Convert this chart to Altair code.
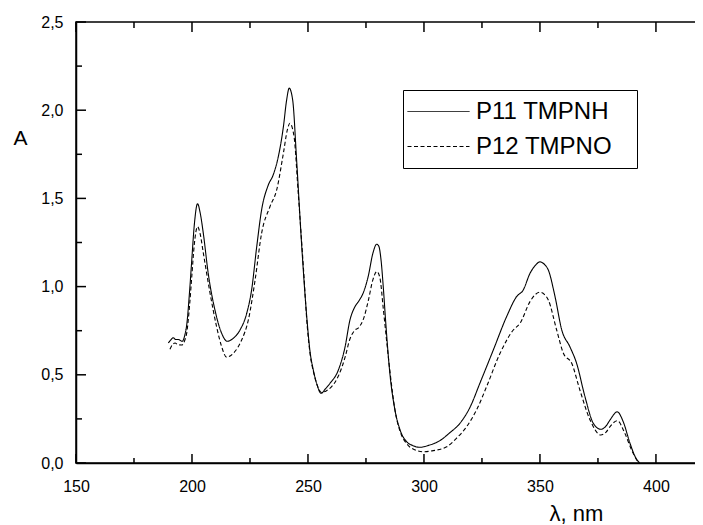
import altair as alt
import pandas as pd

series_names = ["P11 TMPNH", "P12 TMPNO"]

wl_p11 = [189.8, 191.0, 191.9, 193.0, 194.1, 195.8, 197.0, 197.7, 199.0, 199.9,
          201.0, 202.4, 203.5, 204.9, 207.0, 209.9, 212.8, 215.2, 217.8, 220.7,
          223.6, 225.7, 227.9, 230.0, 232.9, 235.0, 237.2, 239.4, 240.8, 241.9,
          243.4, 245.1, 247.3, 249.4, 250.9, 252.3, 254.0, 255.6, 257.5, 259.5,
          263.1, 266.0, 268.1, 270.0, 272.0, 274.0, 276.0, 278.0, 279.6, 280.5,
          281.5, 282.5, 283.5, 285.3, 287.5, 289.7, 292.5, 295.0, 298.3, 302.0,
          306.9, 311.0, 315.5, 320.0, 324.1, 329.9, 335.6, 339.9, 342.8, 345.7,
          348.0, 350.0, 352.0, 353.6, 356.5, 359.4, 362.9, 365.8, 369.4, 373.0,
          376.2, 378.5, 380.2, 383.3, 385.9, 388.8, 391.4, 393.0]
a_p11 = [0.68, 0.70, 0.71, 0.70, 0.70, 0.69, 0.73, 0.78, 0.98, 1.15,
         1.35, 1.47, 1.42, 1.30, 1.075, 0.867, 0.735, 0.69, 0.707, 0.754,
         0.849, 0.981, 1.226, 1.434, 1.576, 1.633, 1.736, 1.906, 2.058, 2.125,
         2.058, 1.718, 1.23, 0.84, 0.63, 0.527, 0.44, 0.395, 0.42, 0.452,
         0.527, 0.659, 0.811, 0.88, 0.92, 0.97, 1.06, 1.19, 1.24, 1.23,
         1.15, 0.99, 0.80, 0.508, 0.30, 0.187, 0.121, 0.10, 0.089, 0.10,
         0.127, 0.17, 0.225, 0.32, 0.452, 0.641, 0.829, 0.943, 0.981, 1.075,
         1.12, 1.14, 1.125, 1.094, 0.943, 0.754, 0.659, 0.565, 0.376, 0.225,
         0.191, 0.21, 0.244, 0.29, 0.234, 0.112, 0.027, 0.0]

wl_p12 = [190.5, 191.5, 192.7, 194.0, 195.6, 197.0, 197.7, 199.0, 199.9, 201.0,
          202.4, 203.5, 204.9, 207.8, 210.6, 212.8, 214.9, 217.8, 221.4, 224.3,
          227.2, 230.0, 233.6, 236.5, 239.4, 241.1, 242.2, 244.0, 245.8, 248.0,
          249.7, 251.0, 252.5, 254.0, 255.8, 258.0, 260.0, 263.0, 266.0, 268.0,
          270.0, 272.0, 274.0, 276.0, 278.0, 279.7, 281.0, 282.5, 284.0, 285.5,
          287.5, 289.7, 292.5, 296.0, 299.7, 304.0, 309.8, 314.0, 318.4, 323.0,
          327.0, 332.8, 338.5, 341.4, 345.7, 348.0, 350.0, 352.0, 353.6, 357.2,
          360.1, 363.7, 367.2, 371.6, 376.2, 378.5, 380.2, 383.3, 386.6, 389.5,
          392.5]
a_p12 = [0.645, 0.67, 0.68, 0.67, 0.669, 0.70, 0.735, 0.90, 1.056, 1.24,
         1.34, 1.30, 1.189, 0.962, 0.773, 0.659, 0.60, 0.622, 0.697, 0.811,
         1.037, 1.302, 1.453, 1.548, 1.756, 1.888, 1.926, 1.85, 1.529, 1.113,
         0.773, 0.61, 0.51, 0.44, 0.40, 0.41, 0.43, 0.49, 0.60, 0.70,
         0.75, 0.77, 0.82, 0.92, 1.04, 1.085, 1.05, 0.87, 0.68, 0.50,
         0.30, 0.18, 0.11, 0.075, 0.064, 0.07, 0.092, 0.14, 0.206, 0.31,
         0.433, 0.622, 0.754, 0.792, 0.915, 0.955, 0.968, 0.955, 0.924, 0.754,
         0.622, 0.565, 0.414, 0.244, 0.159, 0.175, 0.206, 0.24, 0.168, 0.074,
         0.0]

x_major = [150, 200, 250, 300, 350, 400]
x_minor = [175, 225, 275, 325, 375]
y_major = [0.0, 0.5, 1.0, 1.5, 2.0, 2.5]
y_minor = [0.25, 0.75, 1.25, 1.75, 2.25]

W, H = 634, 441
FONT = "Liberation Sans"

df = pd.concat([
    pd.DataFrame({"wl": wl_p11, "A": a_p11, "series": series_names[0]}),
    pd.DataFrame({"wl": wl_p12, "A": a_p12, "series": series_names[1]}),
], ignore_index=True)

xscale = alt.Scale(domain=[150, 423.3], nice=False, zero=False)
yscale = alt.Scale(domain=[0, 2.5], nice=False, zero=False)

xaxis = alt.Axis(values=x_major, format="d", ticks=False, tickSize=0,
                 labelPadding=15, labelFontSize=16, labelFont=FONT,
                 labelColor="black", labelFlush=False, labelOverlap=False,
                 domainColor="black", domainWidth=1.5, grid=False,
                 title="λ, nm", titleFont=FONT, titleFontSize=22,
                 titleFontWeight="normal", titleColor="black",
                 titleX=500, titleY=57, titleAlign="center",
                 titleBaseline="alphabetic")
yaxis = alt.Axis(values=y_major,
                 labelExpr="replace(format(datum.value, '.1f'), '.', ',')",
                 ticks=False, tickSize=0, labelPadding=13, labelFontSize=16,
                 labelFont=FONT, labelColor="black", labelFlush=False,
                 labelOverlap=False, domainColor="black", domainWidth=1.5,
                 grid=False, title="A", titleFont=FONT, titleFontSize=21,
                 titleFontWeight="normal", titleColor="black", titleAngle=0,
                 titleX=-56, titleY=116, titleAlign="center",
                 titleBaseline="middle")

legend = alt.Legend(orient="none", legendX=327, legendY=68, title=None,
                    symbolType="stroke", symbolSize=3844, symbolStrokeWidth=1,
                    symbolStrokeColor="black", clipHeight=35, rowPadding=0,
                    labelFontSize=24, labelFont=FONT, labelColor="black",
                    labelOffset=6, labelLimit=400, strokeColor="black",
                    padding=4, labelExpr="datum.label + '   \u200b'")

lines = alt.Chart(df).mark_line(color="black", strokeWidth=1.1,
                                interpolate="monotone").encode(
    x=alt.X("wl:Q", scale=xscale, axis=xaxis),
    y=alt.Y("A:Q", scale=yscale, axis=yaxis),
    strokeDash=alt.StrokeDash("series:N",
                              scale=alt.Scale(domain=series_names,
                                              range=[[1, 0], [4, 2.5]]),
                              legend=legend),
)


def xticks(vals, y0, y1):
    return alt.Chart(pd.DataFrame({"wl": vals})).mark_rule(
        color="black", strokeWidth=1.5).encode(
        x=alt.X("wl:Q", scale=xscale, axis=xaxis),
        y=alt.value(y0), y2=alt.value(y1))


def yticks(vals, x0, x1):
    return alt.Chart(pd.DataFrame({"A": vals})).mark_rule(
        color="black", strokeWidth=1.5).encode(
        y=alt.Y("A:Q", scale=yscale, axis=yaxis),
        x=alt.value(x0), x2=alt.value(x1))


chart = alt.layer(
    lines,
    xticks(x_major, H - 9, H),
    xticks(x_minor, H - 5, H),
    xticks(x_major, 0, 10),
    xticks(x_minor, 0, 6),
    yticks(y_major, 0, 10),
    yticks(y_minor, 0, 6),
    yticks(y_major, W - 10, W),
    yticks(y_minor, W - 6, W),
).properties(
    width=W, height=H,
    autosize=alt.AutoSizeParams(type="none"),
    padding={"left": 68, "top": 14, "right": -15, "bottom": 62},
    background="white",
).configure_view(stroke="black", strokeWidth=1.5)

chart.save("out.html", embed_options={"renderer": "svg", "actions": False})
